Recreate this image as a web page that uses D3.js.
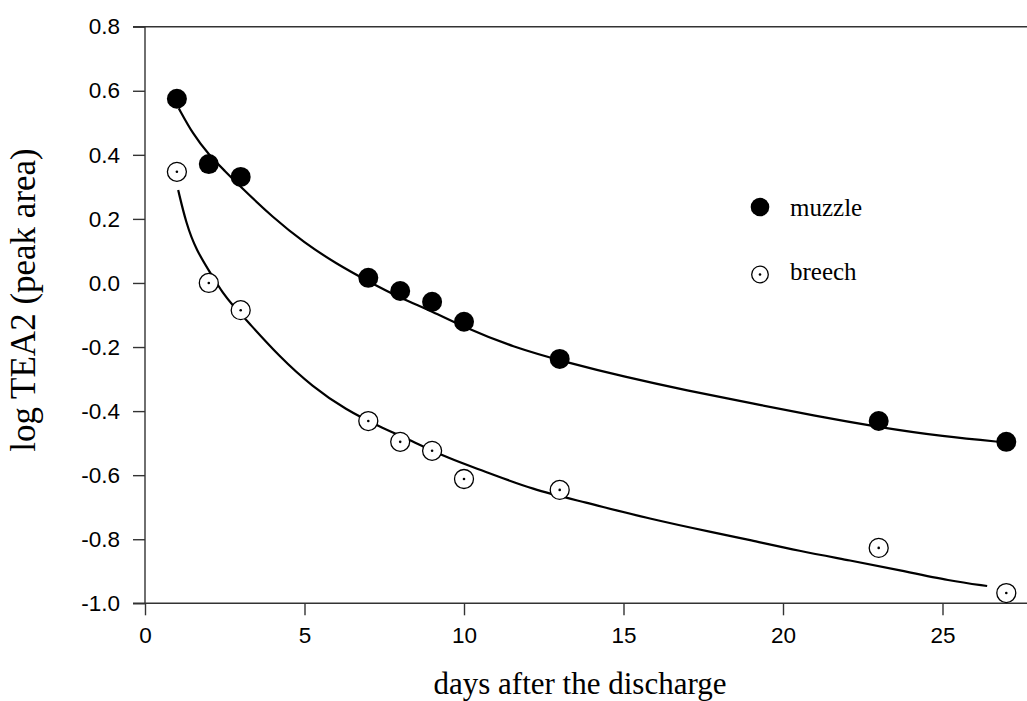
<!DOCTYPE html>
<html><head><meta charset="utf-8">
<script src="https://cdn.jsdelivr.net/npm/d3@7"></script>
<style>html,body{margin:0;padding:0;background:#fff;} svg{display:block;}</style>
</head><body><svg id="chart" width="1027" height="701"></svg>
<script>
// ---- data ----
const days = [1, 2, 3, 7, 8, 9, 10, 13, 23, 27];
const muzzle = [0.575, 0.371, 0.331, 0.016, -0.025, -0.059, -0.121, -0.237, -0.431, -0.496];
const breech = [0.347, 0.0, -0.085, -0.431, -0.496, -0.524, -0.612, -0.646, -0.827, -0.968];

// fitted curves
const muzzleFitX = [1.06, 1.5, 2.0, 2.5, 3.0, 4.0, 5.0, 6.0, 7.0, 8.0, 9.0, 10.0, 11.5, 13.3, 15.0, 17.0, 19.0, 21.0, 23.0, 25.0, 27.0];
const muzzleFitY = [0.545, 0.465, 0.40, 0.35, 0.30, 0.205, 0.125, 0.06, 0.005, -0.047, -0.088, -0.138, -0.199, -0.25, -0.292, -0.336, -0.375, -0.415, -0.45, -0.479, -0.498];
const breechFitX = [1.04, 1.29, 1.6, 2.12, 2.44, 2.75, 3.17, 4.21, 5.25, 6.3, 7.35, 8.18, 9.56, 10.6, 12.17, 13.74, 15.83, 17.92, 18.9, 20.53, 22.1, 23.67, 25.24, 26.4];
const breechFitY = [0.29, 0.186, 0.103, 0.02, -0.032, -0.07, -0.115, -0.23, -0.324, -0.396, -0.448, -0.485, -0.55, -0.586, -0.646, -0.683, -0.737, -0.781, -0.801, -0.837, -0.866, -0.897, -0.93, -0.946];

const xTicks = [0, 5, 10, 15, 20, 25];
const yTicks = [0.8, 0.6, 0.4, 0.2, 0.0, -0.2, -0.4, -0.6, -0.8, -1.0];
const yTickLabels = ["0.8", "0.6", "0.4", "0.2", "0.0", "-0.2", "-0.4", "-0.6", "-0.8", "-1.0"];
const seriesNames = ["muzzle", "breech"];
const xTitle = "days after the discharge";
const yTitle = "log TEA2 (peak area)";

// ---- layout ----
const svg = d3.select("#chart");
const X0 = 145, PXU = 31.9;
const x = d3.scaleLinear().domain([0, 28]).range([X0, X0 + 28 * PXU]);
const y = d3.scaleLinear().domain([-1.0, 0.8]).range([603.3, 26.7]);
const axisColor = "#333";
const sans = "'Liberation Sans', Arial, sans-serif";
const serif = "'Liberation Serif', 'Times New Roman', serif";

// frame lines
svg.append("line").attr("x1", X0).attr("x2", X0).attr("y1", y(0.8)).attr("y2", y(-1.0))
  .attr("stroke", axisColor).attr("stroke-width", 1.4);
svg.append("line").attr("x1", X0 - 12).attr("x2", 1027).attr("y1", y(-1.0)).attr("y2", y(-1.0))
  .attr("stroke", axisColor).attr("stroke-width", 1.4);
svg.append("line").attr("x1", X0 - 12).attr("x2", 1027).attr("y1", y(0.8)).attr("y2", y(0.8))
  .attr("stroke", axisColor).attr("stroke-width", 1.4);

// axes
const yAxis = d3.axisLeft(y).tickValues(yTicks).tickFormat((d, i) => yTickLabels[i])
  .tickSize(12).tickPadding(13).tickSizeOuter(0);
const gy = svg.append("g").attr("transform", `translate(${X0},0)`).call(yAxis);
gy.select(".domain").remove();
gy.selectAll("line").attr("stroke", axisColor).attr("stroke-width", 1.4);
gy.selectAll("text").attr("font-family", sans).attr("font-size", 22.5).attr("fill", "#000");

const xAxis = d3.axisBottom(x).tickValues(xTicks).tickFormat(d3.format("d"))
  .tickSize(12).tickPadding(12).tickSizeOuter(0);
const gx = svg.append("g").attr("transform", `translate(0,${y(-1.0)})`).call(xAxis);
gx.select(".domain").remove();
gx.selectAll("line").attr("stroke", axisColor).attr("stroke-width", 1.4);
gx.selectAll("text").attr("font-family", sans).attr("font-size", 22.5).attr("fill", "#000");

// titles
svg.append("text").attr("x", 580).attr("y", 694).attr("text-anchor", "middle")
  .attr("font-family", serif).attr("font-size", 31).attr("fill", "#000").text(xTitle);
svg.append("text").attr("transform", "translate(35,300) rotate(-90)").attr("text-anchor", "middle")
  .attr("font-family", serif).attr("font-size", 35).attr("fill", "#000").text(yTitle);

// fitted curves
const line = d3.line().x(d => x(d[0])).y(d => y(d[1])).curve(d3.curveBasis);
svg.append("path").datum(muzzleFitX.map((v, i) => [v, muzzleFitY[i]]))
  .attr("d", line).attr("fill", "none").attr("stroke", "#000").attr("stroke-width", 2.2);
svg.append("path").datum(breechFitX.map((v, i) => [v, breechFitY[i]]))
  .attr("d", line).attr("fill", "none").attr("stroke", "#000").attr("stroke-width", 2.2);

// points
svg.append("g").selectAll("circle").data(days.map((d, i) => [d, muzzle[i]])).join("circle")
  .attr("cx", d => x(d[0])).attr("cy", d => y(d[1])).attr("r", 10).attr("fill", "#000");
const bg = svg.append("g").selectAll("g").data(days.map((d, i) => [d, breech[i]])).join("g")
  .attr("transform", d => `translate(${x(d[0])},${y(d[1])})`);
bg.append("circle").attr("r", 9.5).attr("fill", "#fff").attr("stroke", "#000").attr("stroke-width", 1.3);
bg.append("circle").attr("r", 1.3).attr("fill", "#000");

// legend
const leg = svg.append("g");
leg.append("circle").attr("cx", 760).attr("cy", 207).attr("r", 9.3).attr("fill", "#000");
leg.append("text").attr("x", 790).attr("y", 216).attr("font-family", serif).attr("font-size", 25)
  .attr("fill", "#000").text(seriesNames[0]);
leg.append("circle").attr("cx", 760).attr("cy", 274.5).attr("r", 8.3).attr("fill", "#fff")
  .attr("stroke", "#000").attr("stroke-width", 1.3);
leg.append("circle").attr("cx", 760).attr("cy", 274.5).attr("r", 1.3).attr("fill", "#000");
leg.append("text").attr("x", 790).attr("y", 280).attr("font-family", serif).attr("font-size", 25)
  .attr("fill", "#000").text(seriesNames[1]);
</script>
</body></html>
